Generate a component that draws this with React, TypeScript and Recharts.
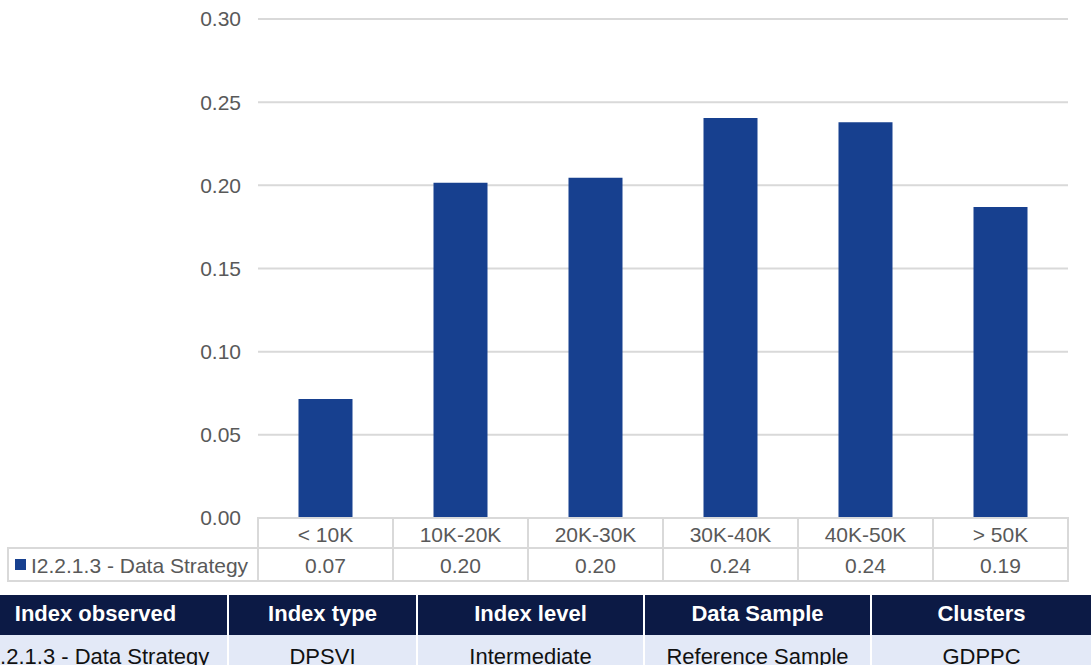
import { BarChart, Bar, XAxis, YAxis, CartesianGrid } from 'recharts';

const categories = ['< 10K', '10K-20K', '20K-30K', '30K-40K', '40K-50K', '> 50K'];
const dataStrategy = [0.0715, 0.2015, 0.2045, 0.2405, 0.238, 0.187];
const yTicks = [0, 0.05, 0.1, 0.15, 0.2, 0.25, 0.3];
const seriesName = 'I2.2.1.3 - Data Strategy';

const infoHeaders = ['Index observed', 'Index type', 'Index level', 'Data Sample', 'Clusters'];
const infoValues = ['I2.2.1.3 - Data Strategy', 'DPSVI', 'Intermediate', 'Reference Sample', 'GDPPC'];
const infoWidths = [227, 187, 225, 225, 219];

const chartData = categories.map((name, i) => ({ name, value: dataStrategy[i] }));

const BAR = '#17408f';
const BORDER = '#d9d9d9';
const TEXT = '#595959';
const FONT = '"Liberation Sans", Arial, sans-serif';

function TableTick(props: any) {
  const { x, y, payload, index } = props;
  const half = payload?.offset ?? 67.5;
  const left = x - half;
  const w = half * 2;
  const row1 = 30;
  const row2 = 33;
  return (
    <g>
      <rect x={left} y={y} width={w} height={row1} fill="#fff" stroke={BORDER} strokeWidth={2} />
      <text x={x} y={y + row1 / 2 + 1} textAnchor="middle" dominantBaseline="central" fill={TEXT} fontSize={21}>
        {payload.value}
      </text>
      <rect x={left} y={y + row1} width={w} height={row2} fill="#fff" stroke={BORDER} strokeWidth={2} />
      <text x={x} y={y + row1 + row2 / 2 + 1} textAnchor="middle" dominantBaseline="central" fill={TEXT} fontSize={21}>
        {dataStrategy[index].toFixed(2)}
      </text>
      {index === 0 && (
        <g>
          <rect x={8} y={y + row1} width={left - 8} height={row2} fill="#fff" stroke={BORDER} strokeWidth={2} />
          <rect x={15} y={y + row1 + 11} width={11} height={11} fill={BAR} />
          <text x={31} y={y + row1 + row2 / 2 + 1} dominantBaseline="central" fill={TEXT} fontSize={21}>
            {seriesName}
          </text>
        </g>
      )}
    </g>
  );
}

export default function App() {
  return (
    <div
      style={{
        position: 'absolute',
        left: 0,
        top: 0,
        width: 1091,
        height: 665,
        overflow: 'hidden',
        background: '#fff',
        fontFamily: FONT,
      }}
    >
      <BarChart
        width={1091}
        height={595}
        data={chartData}
        margin={{ top: 19, right: 23, left: 0, bottom: 0 }}
        barCategoryGap="30%"
      >
        <CartesianGrid vertical={false} stroke={BORDER} strokeWidth={2} />
        <YAxis
          domain={[0, 0.3]}
          ticks={yTicks}
          width={258}
          axisLine={false}
          tickLine={false}
          tickSize={0}
          tickMargin={17}
          tickFormatter={(v: number) => v.toFixed(2)}
          tick={{ fontSize: 21, fill: TEXT }}
        />
        <XAxis
          dataKey="name"
          height={77}
          interval={0}
          axisLine={false}
          tickLine={false}
          tickSize={0}
          tickMargin={0}
          tick={<TableTick />}
        />
        <Bar dataKey="value" fill={BAR} isAnimationActive={false} />
      </BarChart>
      <div style={{ position: 'absolute', left: 0, top: 595, width: 1091, display: 'flex', gap: 2 }}>
        {infoHeaders.map((h, i) => (
          <div key={h} style={{ width: infoWidths[i], flexShrink: 0 }}>
            <div
              style={{
                height: 40,
                background: '#0c1a45',
                color: '#fff',
                fontWeight: 'bold',
                fontSize: 22,
                display: 'flex',
                alignItems: 'center',
                justifyContent: 'center',
                whiteSpace: 'nowrap',
                paddingRight: i === 0 ? 36 : 0,
                paddingBottom: 2,
                boxSizing: 'border-box',
              }}
            >
              {h}
            </div>
            <div
              style={{
                height: 40,
                background: '#e3e9f7',
                color: '#111',
                fontSize: 22,
                display: 'flex',
                alignItems: 'center',
                justifyContent: 'center',
                whiteSpace: 'nowrap',
                paddingRight: i === 0 ? 36 : 0,
                paddingTop: 3,
                boxSizing: 'border-box',
              }}
            >
              {infoValues[i]}
            </div>
          </div>
        ))}
      </div>
    </div>
  );
}
